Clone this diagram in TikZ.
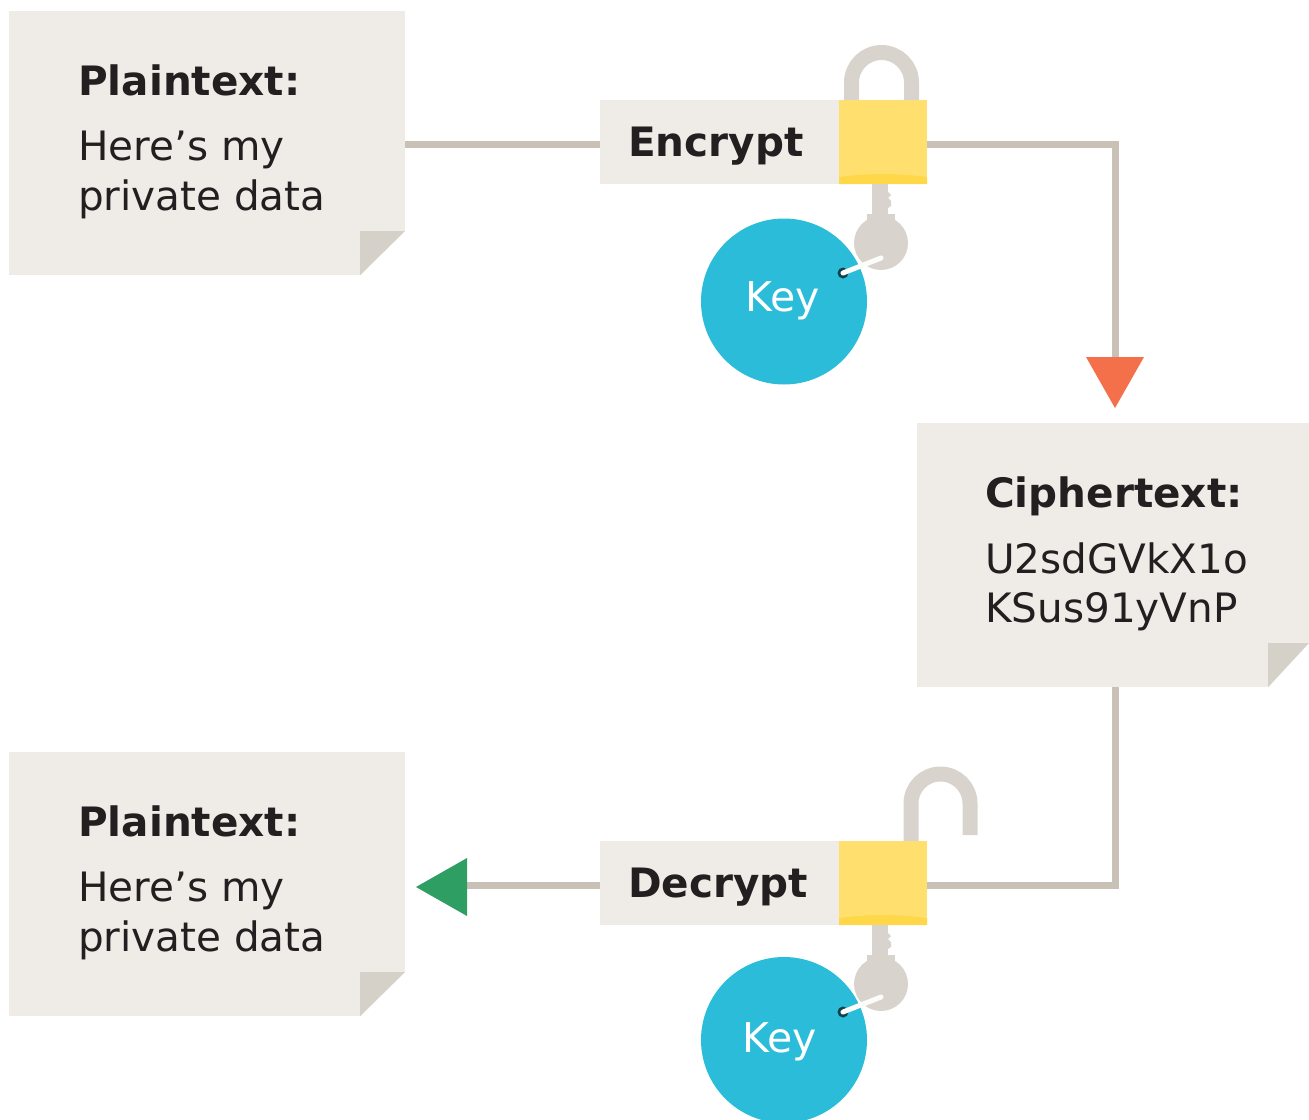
\documentclass[tikz,border=0pt]{standalone}
\usepackage{fontspec}
\setmainfont{DejaVu Sans}
\definecolor{paper}{HTML}{EFECE8}
\definecolor{fold}{HTML}{D6D1C8}
\definecolor{wire}{HTML}{C9C1B6}
\definecolor{metal}{HTML}{D8D4CD}
\definecolor{lockbody}{HTML}{FFE06E}
\definecolor{lockband}{HTML}{FFD84A}
\definecolor{keyblue}{HTML}{2ABCD9}
\definecolor{inktext}{HTML}{231F20}
\definecolor{orangetip}{HTML}{F4704A}
\definecolor{greentip}{HTML}{2E9E62}
\tikzset{
  x=1pt,y=-1pt,
  sheet/.style={fill=paper,draw=none,inner sep=0,outer sep=0,minimum height=264pt,anchor=north west},
  bar/.style={fill=paper,draw=none,inner sep=0,outer sep=0,minimum width=239pt,minimum height=84pt,anchor=north west},
  lockbox/.style={fill=lockbody,draw=none,inner sep=0,outer sep=0,minimum width=88pt,minimum height=84pt,anchor=north west},
  keydisc/.style={circle,fill=keyblue,draw=none,inner sep=0,outer sep=0,minimum size=166pt},
  keylabel/.style={text=white,anchor=base,inner sep=0,font=\fontsize{41}{41}\selectfont},
  heading/.style={anchor=base west,inner sep=0,text=inktext,font=\fontsize{40.5}{40.5}\selectfont\bfseries},
  bodytext/.style={anchor=base west,inner sep=0,text=inktext,font=\fontsize{40.5}{40.5}\selectfont},
  wireline/.style={draw=wire,line width=7pt},
  shackle/.style={draw=metal,line width=15pt},
  foldpart/.style={fill=fold,draw=none},
  keymetal/.style={fill=metal,draw=none},
}
\newcommand{\keyshape}[2]{%
  \fill[keymetal] (#1-9,#2) rectangle (#1+7,#2+32);
  \fill[keymetal] (#1+7,#2+8) -- (#1+10,#2+11) -- (#1+7,#2+14) -- (#1+10,#2+17) -- (#1+10,#2+22) -- (#1+7,#2+24) -- cycle;
  \fill[keymetal] (#1-14,#2+30) rectangle (#1+14,#2+38);
  \fill[keymetal] (#1,#2+59) circle (27);
}
\newcommand{\keyring}[2]{%
  \fill[black!65!keyblue] (#1-38,#2+89) circle (5.5);
  \draw[white!92!metal,line width=5pt,line cap=round] (#1-38,#2+89) -- (#1,#2+74);
}
\begin{document}
\begin{tikzpicture}
\useasboundingbox (0,0) rectangle (1309,1119);
% documents
\node[sheet,minimum width=396pt] (plainA) at (9,11) {};
\node[sheet,minimum width=392pt] (cipher) at (917,423) {};
\node[sheet,minimum width=396pt] (plainB) at (9,752) {};
% bars and locks
\node[bar] (enc) at (600,100) {};
\node[lockbox] (lockA) at (839,100) {};
\node[bar] (dec) at (600,841) {};
\node[lockbox] (lockB) at (839,841) {};
% connector ends
\coordinate (orangeTop) at (1115,360);
\coordinate (greenBack) at (464,885);
\coordinate (cipherOut) at (1115,687);
% connectors
\draw[wireline] (plainA.east |- 0,144) -- (enc.west |- 0,144);
\draw[wireline] (lockA.east |- 0,144) -- (1115,144) -- (orangeTop);
\draw[wireline] (cipherOut) -- (cipherOut |- 0,885) -- (lockB.east |- 0,885);
\draw[wireline] (dec.west |- 0,885) -- (greenBack);
\fill[orangetip] (1086,357) -- (1144,357) -- (1115,408) -- cycle;
\fill[greentip] (467,858) -- (467,916) -- (416,887) -- cycle;
% folds
\fill[white] (405,231) -- (405,276) -- (360,276) -- cycle;
\fill[foldpart] (360,275) -- (360,231) -- (405,231) -- cycle;
\fill[white] (1309,643) -- (1310,688) -- (1268,688) -- cycle;
\fill[foldpart] (1268,687) -- (1268,643) -- (1309,643) -- cycle;
\fill[white] (405,972) -- (405,1017) -- (360,1017) -- cycle;
\fill[foldpart] (360,1016) -- (360,972) -- (405,972) -- cycle;
% shackles
\draw[shackle] (851.5,100) -- (851.5,82.5) arc[start angle=180,end angle=360,radius=30] -- (911.5,100);
\draw[shackle] (911,841) -- (911,803.5) arc[start angle=180,end angle=360,radius=29.5] -- (970,835);
% lock bands
\fill[lockband] (839,184) -- (839,177) .. controls (870,173) and (896,173) .. (927,177) -- (927,184) -- cycle;
\fill[lockband] (839,925) -- (839,918) .. controls (870,914) and (896,914) .. (927,918) -- (927,925) -- cycle;
% keys
\keyshape{881}{184}
\node[keydisc] (keyA) at (784,301.5) {};
\keyring{881}{184}
\keyshape{881}{925}
\begin{scope}
\clip (0,0) rectangle (1309,1119);
\node[keydisc] (keyB) at (784,1040) {};
\end{scope}
\keyring{881}{923}
\node[keylabel] (keyAt) at (783,311) {Key};
\node[keylabel] (keyBt) at (780,1052) {Key};
% texts
\node[heading] (t1) at (78,95) {Plaintext:};
\node[bodytext] (t2) at (78,160) {Here’s my};
\node[bodytext] (t3) at (78,210) {private data};
\node[heading] (t4) at (985,507) {Ciphertext:};
\node[bodytext] (t5) at (985,573) {U2sdGVkX1o};
\node[bodytext] (t6) at (985,622) {KSus91yVnP};
\node[heading] (t7) at (78,836) {Plaintext:};
\node[bodytext] (t8) at (78,901) {Here’s my};
\node[bodytext] (t9) at (78,951) {private data};
\node[heading] (t10) at (628,156) {Encrypt};
\node[heading] (t11) at (628,897) {Decrypt};
\end{tikzpicture}
\end{document}
